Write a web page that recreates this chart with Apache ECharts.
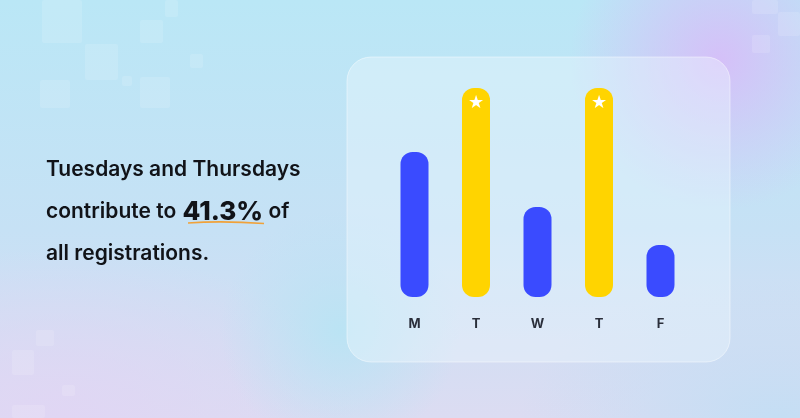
<!DOCTYPE html>
<html>
    <head>
        <title>Registrations by weekday</title>
        <meta charset="UTF-8">
        <script src="https://cdn.jsdelivr.net/npm/echarts@6/dist/echarts.min.js"></script>
        <style>
            html, body { margin: 0; padding: 0; }
            body {
                width: 800px; height: 418px; overflow: hidden;
                background:
                    radial-gradient(circle at 720px 60px, rgba(214, 190, 248, 0.95) 0, rgba(214, 190, 248, 0) 150px),
                    radial-gradient(circle at 340px 330px, rgba(184, 228, 244, 0.9) 0, rgba(184, 228, 244, 0) 120px),
                    radial-gradient(ellipse at 60px 418px, rgba(224, 214, 244, 1) 0, rgba(224, 214, 244, 0) 300px),
                    radial-gradient(ellipse at 780px 418px, rgba(196, 222, 244, 1) 0, rgba(196, 222, 244, 0) 260px),
                    linear-gradient(180deg, #bae7f6 0%, #c6e1f5 55%, #dcdcf2 100%);
            }
        </style>
    </head>
    <body>
        <div id="chart" style="width: 800px; height: 418px;"></div>
        <script>
            // weekday registrations (relative bar heights)
            const days = ['M', 'T', 'W', 'T', 'F'];
            const values = [145, 209, 90, 209, 52];
            const starred = [false, true, false, true, false];

            const blue = '#3a4bff';
            const yellow = '#ffd400';

            // faint decorative squares [x, y, w, h]
            const squares = [
                [42, 0, 40, 43], [85, 44, 33, 36], [140, 20, 23, 23], [165, 0, 13, 17],
                [190, 54, 13, 14], [40, 80, 30, 28], [122, 76, 10, 10], [140, 77, 30, 31],
                [12, 350, 22, 25], [36, 330, 18, 16], [62, 385, 13, 11], [12, 405, 33, 13],
                [752, 0, 26, 14], [778, 12, 22, 24], [752, 35, 18, 18]
            ];

            const chart = echarts.init(document.getElementById('chart'), null, {renderer: 'canvas'});

            const graphics = squares.map(s => ({
                type: 'rect', silent: true, z: -10,
                shape: {x: s[0], y: s[1], width: s[2], height: s[3], r: 2},
                style: {fill: 'rgba(255,255,255,0.13)'}
            }));
            graphics.push({
                type: 'rect', silent: true, z: -5,
                shape: {x: 347, y: 57, width: 383, height: 305, r: 24},
                style: {fill: 'rgba(240,250,255,0.38)', stroke: 'rgba(255,255,255,0.45)', lineWidth: 1}
            });
            graphics.push({
                type: 'text', left: 46, top: 149,
                style: {
                    text: 'Tuesdays and Thursdays\ncontribute to {b|41.3%} of\nall registrations.',
                    font: '600 21px Inter, "Open Sans", sans-serif',
                    fill: '#111318',
                    lineHeight: 42,
                    rich: {
                        b: {
                            fontSize: 26, fontWeight: 800, fontFamily: 'Inter', fill: '#111318',
                            lineHeight: 42, padding: [0, 0, 0, 1]
                        }
                    }
                }
            });
            graphics.push({
                type: 'bezierCurve', silent: true,
                shape: {x1: 188, y1: 223, x2: 264, y2: 223.5, cpx1: 222, cpy1: 220.5},
                style: {stroke: '#f0a23a', lineWidth: 1.6, fill: null}
            });

            const option = {
                animation: false,
                graphic: graphics,
                grid: {left: 383.75, right: 108.75, top: 88, bottom: 121},
                xAxis: {
                    type: 'category',
                    data: days,
                    axisLine: {show: false},
                    axisTick: {show: false},
                    axisLabel: {
                        margin: 21,
                        fontSize: 13,
                        fontWeight: 'bold',
                        fontFamily: 'Inter, sans-serif',
                        color: '#2a2e3a'
                    }
                },
                yAxis: {
                    type: 'value', min: 0, max: 209, show: false,
                    splitLine: {show: false}
                },
                series: [{
                    type: 'bar',
                    barWidth: 28,
                    data: values.map((v, i) => ({
                        value: v,
                        itemStyle: {color: starred[i] ? yellow : blue},
                        label: {
                            show: starred[i],
                            position: 'insideTop',
                            distance: 6,
                            formatter: '★',
                            color: '#ffffff',
                            fontSize: 18,
                            fontFamily: 'DejaVu Sans'
                        }
                    })),
                    itemStyle: {borderRadius: 12}
                }]
            };
            chart.setOption(option);
        </script>
    </body>
</html>
